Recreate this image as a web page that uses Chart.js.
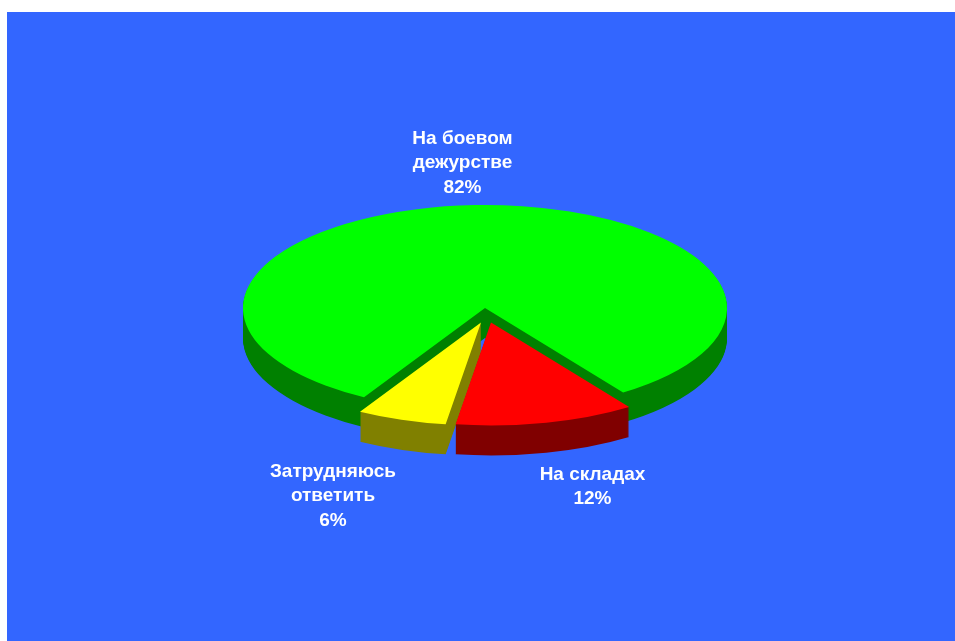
<!DOCTYPE html>
<html><head><meta charset="utf-8">
<script src="https://cdn.jsdelivr.net/npm/chart.js@4"></script>
<style>
html,body{margin:0;padding:0;background:#fff;overflow:hidden}
#wrap{position:absolute;left:0;top:0;width:955px;height:641px}
canvas{display:block}
</style></head><body>
<div id="wrap"><canvas id="c" width="955" height="641"></canvas></div>
<script>
const categories = ["На боевом дежурстве", "На складах", "Затрудняюсь ответить"];
const values = [82, 12, 6];
const topColors = ["#00ff00", "#ff0000", "#ffff00"];
const sideColors = ["#008000", "#800000", "#808000"];
const labelLines = [["На боевом","дежурстве","82%"],["На складах","12%"],["Затрудняюсь","ответить","6%"]];
const labelCentres = [[462.5,139],[592.5,475],[333,472]];
const explodeX = [0, 6, -4];
const explodeY = [0, 34, 34];
const squash = 0.4256, depth = 30, centreY = 308;

const pie3d = {
  id: 'pie3d',
  afterDatasetsUpdate(chart){
    chart.getDatasetMeta(0).data.forEach((a,i)=>{ a.x += explodeX[i]; a.y += explodeY[i]; });
  },
  beforeDraw(chart){
    const c = chart.ctx;
    c.save(); c.fillStyle = '#3366ff'; c.fillRect(7,12,948,629); c.restore();
  },
  beforeDatasetsDraw(chart){
    const c = chart.ctx, arcs = chart.getDatasetMeta(0).data;
    const midY = (chart.chartArea.top + chart.chartArea.bottom)/2;
    for (const i of [0,2,1]){
      const a = arcs[i];
      c.fillStyle = sideColors[i];
      for (let d = depth; d >= 1; d--){
        c.save();
        c.translate(0, centreY + d);
        c.scale(1, squash);
        c.translate(0, -midY);
        c.beginPath();
        c.moveTo(a.x,a.y);
        c.arc(a.x,a.y,a.outerRadius,a.startAngle,a.endAngle);
        c.closePath();
        c.fill();
        c.restore();
      }
    }
    c.save();
    c.translate(0, centreY);
    c.scale(1, squash);
    c.translate(0, -midY);
  },
  afterDatasetsDraw(chart){
    const c = chart.ctx;
    c.restore();
    c.save();
    c.fillStyle = '#fff';
    c.font = 'bold 19px "Liberation Sans", Arial, sans-serif';
    c.textAlign = 'center';
    c.textBaseline = 'middle';
    labelLines.forEach((lines,i)=>{
      lines.forEach((t,j)=> c.fillText(t, labelCentres[i][0], labelCentres[i][1] + j*24.2));
    });
    c.restore();
  }
};

new Chart(document.getElementById('c'), {
  type: 'pie',
  plugins: [pie3d],
  data: { labels: categories, datasets: [{
    data: values, backgroundColor: topColors, borderWidth: 0, clip: false
  }]},
  options: {
    responsive: false, animation: false, rotation: 210, radius: 242,
    layout: { padding: { left: 15 } },
    plugins: { legend: { display:false }, tooltip: { enabled:false } }
  }
});
</script>
</body></html>
